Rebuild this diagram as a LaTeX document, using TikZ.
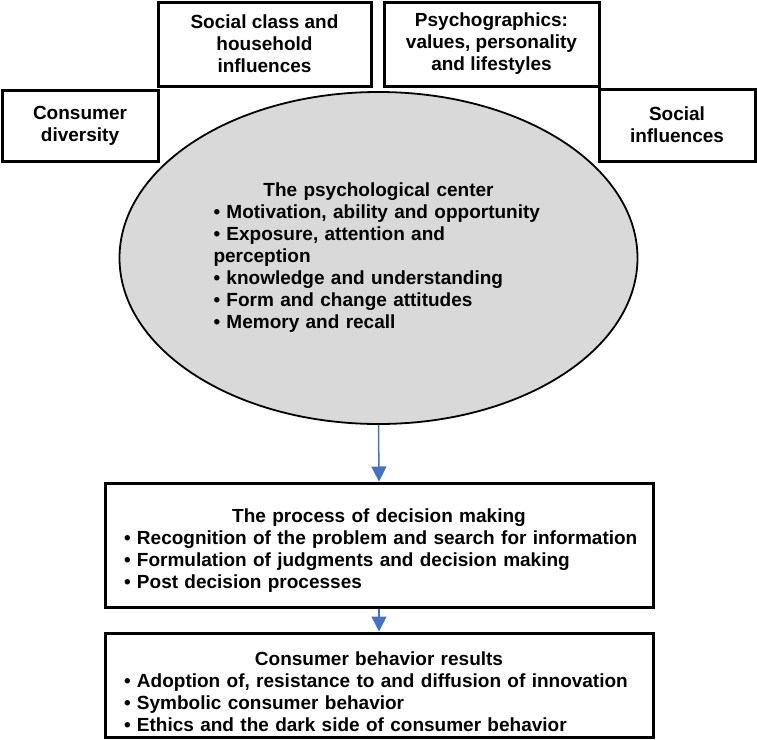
\documentclass[tikz,border=0pt]{standalone}
\usepackage{fontspec}
\setmainfont{Liberation Sans}
\usetikzlibrary{shapes.geometric,arrows.meta}
\definecolor{ellfill}{HTML}{D9D9D9}
\definecolor{arrblue}{HTML}{4472C4}
\begin{document}
\begin{tikzpicture}[x=1pt,y=-1pt,
  every node/.style={font=\fontsize{19}{22}\selectfont\bfseries, inner sep=0pt},
  topbox/.style={draw=black, line width=3pt, rectangle, align=center},
  bigbox/.style={draw=black, line width=3pt, rectangle},
  psyell/.style={draw=black, line width=1.8pt, fill=ellfill, ellipse},
  flow/.style={draw=arrblue, line width=1.5pt, -{Triangle[width=15pt,length=15pt]}}]
\useasboundingbox (0,0) rectangle (757,739);
\node[topbox, minimum width=213, minimum height=84] (soc) at (264.5,44)
  {Social class and\\household\\influences};
\node[topbox, minimum width=215, minimum height=84] (psyg) at (491.5,44)
  {Psychographics:\\values, personality\\and lifestyles};
\node[topbox, minimum width=156, minimum height=71] (div) at (80,125.5)
  {Consumer\\diversity};
\node[topbox, minimum width=156, minimum height=72] (sinf) at (677,125)
  {Social\\influences};
\node[psyell, minimum width=518, minimum height=332] (ell) at (378.5,258) {};
\node[text width=330, align=left] (elltext) at (378.5,258)
  {\hfill The psychological center\hfill\null\\
   • Motivation, ability and opportunity\\
   • Exposure, attention and\\
   perception\\
   • knowledge and understanding\\
   • Form and change attitudes\\
   • Memory and recall};
\node[bigbox, minimum width=548, minimum height=124] (proc) at (379,545) {};
\node[text width=510, align=left] (proctext) at (379,551)
  {\hfill The process of decision making\hfill\null\\
   \mbox{• Recognition of the problem and search for information}\\
   • Formulation of judgments and decision making\\
   • Post decision processes};
\node[bigbox, minimum width=548, minimum height=104] (res) at (379,685) {};
\node[text width=510, align=left] (restext) at (379,692)
  {\hfill Consumer behavior results\hfill\null\\
   • Adoption of, resistance to and diffusion of innovation\\
   • Symbolic consumer behavior\\
   • Ethics and the dark side of consumer behavior};
\draw[flow] (ell.south) -- (proc.north);
\draw[flow] (proc.south) -- (res.north);
\end{tikzpicture}
\end{document}
